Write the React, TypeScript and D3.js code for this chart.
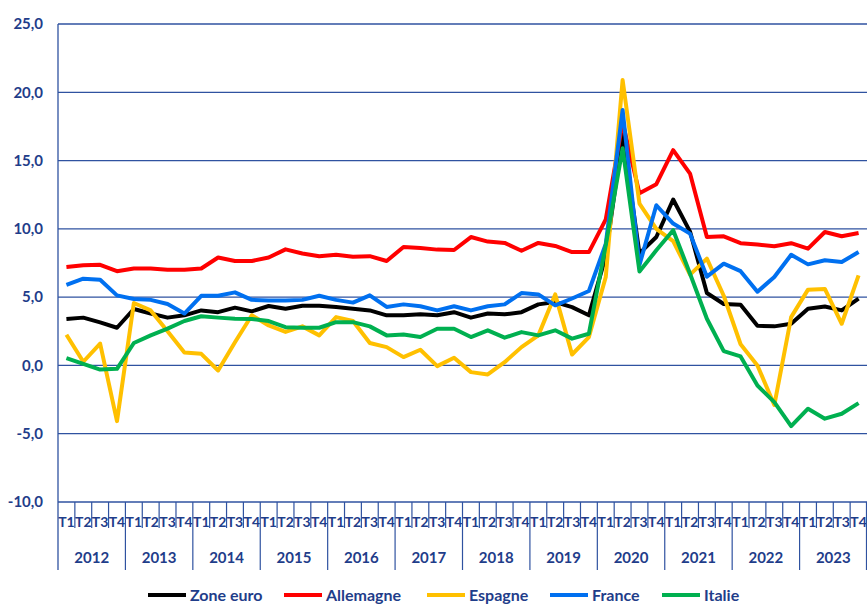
import React from 'react'
import * as d3 from 'd3'

// périodes
const years = ['2012', '2013', '2014', '2015', '2016', '2017', '2018', '2019', '2020', '2021', '2022', '2023']
const quarters = ['T1', 'T2', 'T3', 'T4']
const yTicks = [-10, -5, 0, 5, 10, 15, 20, 25]

// séries
const zoneEuro = [
  3.4, 3.5, 3.15, 2.76, 4.13, 3.8, 3.5, 3.67, 4.03, 3.9, 4.23, 3.96,
  4.35, 4.15, 4.37, 4.37, 4.27, 4.15, 4.03, 3.67, 3.67, 3.74, 3.67, 3.9,
  3.5, 3.8, 3.74, 3.9, 4.47, 4.64, 4.27, 3.67, 8.0, 16.9, 8.2, 9.4,
  12.15, 9.8, 5.3, 4.5, 4.45, 2.9, 2.86, 3.05, 4.15, 4.32, 4.03, 4.89
]
const allemagne = [
  7.2, 7.33, 7.37, 6.9, 7.1, 7.1, 7.0, 7.0, 7.1, 7.9, 7.65, 7.65,
  7.9, 8.5, 8.2, 8.0, 8.1, 7.95, 8.0, 7.65, 8.67, 8.6, 8.48, 8.45,
  9.4, 9.07, 8.97, 8.4, 8.97, 8.75, 8.3, 8.3, 10.7, 17.8, 12.6, 13.27,
  15.76, 14.05, 9.4, 9.45, 8.95, 8.86, 8.72, 8.95, 8.55, 9.77, 9.46, 9.7
]
const espagne = [
  2.25, 0.27, 1.6, -4.08, 4.57, 4.03, 2.5, 0.95, 0.85, -0.37, 1.7, 3.67,
  2.93, 2.45, 2.86, 2.2, 3.54, 3.25, 1.64, 1.34, 0.61, 1.15, -0.05, 0.56,
  -0.49, -0.66, 0.24, 1.34, 2.2, 5.2, 0.8, 2.08, 6.47, 20.9, 11.85, 10.0,
  9.1, 6.65, 7.82, 5.1, 1.55, 0.0, -2.9, 3.54, 5.55, 5.6, 3.05, 6.6
]
const france = [
  5.9, 6.35, 6.28, 5.13, 4.86, 4.8, 4.5, 3.8, 5.1, 5.1, 5.35, 4.8,
  4.75, 4.75, 4.8, 5.1, 4.8, 4.6, 5.13, 4.28, 4.47, 4.33, 4.03, 4.33,
  4.03, 4.33, 4.47, 5.3, 5.2, 4.4, 4.9, 5.45, 8.9, 18.7, 7.35, 11.73,
  10.39, 9.65, 6.5, 7.45, 6.9, 5.4, 6.47, 8.1, 7.4, 7.7, 7.57, 8.3
]
const italie = [
  0.54, 0.12, -0.3, -0.25, 1.64, 2.2, 2.7, 3.25, 3.6, 3.5, 3.42, 3.4,
  3.25, 2.8, 2.76, 2.76, 3.17, 3.17, 2.86, 2.2, 2.27, 2.08, 2.69, 2.69,
  2.08, 2.57, 2.03, 2.44, 2.2, 2.57, 1.96, 2.32, 8.8, 15.9, 6.87, 8.43,
  9.9, 6.72, 3.42, 1.05, 0.66, -1.47, -2.69, -4.45, -3.17, -3.9, -3.54, -2.76
]

const seriesNames = ['Zone euro', 'Allemagne', 'Espagne', 'France', 'Italie']
const seriesValues = [zoneEuro, allemagne, espagne, france, italie]
const seriesColors = ['#000000', '#ff0000', '#ffc000', '#0070f0', '#00b050']

const W = 867
const H = 604
const left = 58
const right = 867
const top = 24
const bottom = 502
const axisColor = '#2f52a0'
const textColor = '#1f3d8a'
const font = 'Lato, "Open Sans", sans-serif'

const periods = years.flatMap((y) => quarters.map((q) => `${y}-${q}`))

const fr = d3.formatLocale({
  decimal: ',',
  thousands: ' ',
  grouping: [3],
  currency: ['', ' €'],
  minus: '-'
})
const fmt = fr.format('.1f')

export default function App() {
  const x = d3.scaleBand<string>().domain(periods).range([left, right]).padding(0)
  const y = d3.scaleLinear().domain([-10, 25]).range([bottom, top])
  const bw = x.bandwidth()

  const line = d3
    .line<number>()
    .x((_, i) => (x(periods[i]) as number) + bw / 2)
    .y((d) => y(d))

  // légende : positions des entrées
  const legendX = [148, 284, 427, 550, 662]
  const legendY = 595

  return (
    <svg
      width={W}
      height={H}
      style={{ position: 'fixed', left: 0, top: 0, background: '#fff' }}
      fontFamily={font}
    >
      {/* grille horizontale */}
      {yTicks.map((t) => (
        <g key={t}>
          <line x1={left} x2={right} y1={y(t)} y2={y(t)} stroke={axisColor} strokeWidth={1.3} />
          <text
            x={43}
            y={y(t)}
            dy="0.35em"
            textAnchor="end"
            fontSize={15}
            fontWeight={700}
            fill={textColor}
          >
            {fmt(t)}
          </text>
        </g>
      ))}

      {/* axe vertical */}
      <line x1={left} x2={left} y1={top} y2={570} stroke={axisColor} strokeWidth={1.3} />

      {/* graduations trimestres */}
      {periods.map((p, i) => {
        const x0 = x(p) as number
        const isYear = i % 4 === 0
        return (
          <g key={p}>
            {i > 0 && (
              <line
                x1={x0}
                x2={x0}
                y1={bottom}
                y2={isYear ? 570 : 528}
                stroke={axisColor}
                strokeWidth={1.2}
              />
            )}
            <text
              x={x0 + bw / 2}
              y={522}
              dy="0.35em"
              textAnchor="middle"
              fontSize={14}
              fontWeight={700}
              fill={textColor}
            >
              {quarters[i % 4]}
            </text>
          </g>
        )
      })}
      <line x1={right - 0.5} x2={right - 0.5} y1={bottom} y2={570} stroke={axisColor} strokeWidth={1.2} />

      {/* années */}
      {years.map((yr) => {
        const x0 = x(`${yr}-T1`) as number
        const x1 = (x(`${yr}-T4`) as number) + bw
        return (
          <text
            key={yr}
            x={(x0 + x1) / 2}
            y={558}
            dy="0.35em"
            textAnchor="middle"
            fontSize={15}
            fontWeight={700}
            fill={textColor}
          >
            {yr}
          </text>
        )
      })}

      {/* courbes */}
      {seriesValues.map((vals, k) => (
        <path
          key={seriesNames[k]}
          d={line(vals) || ''}
          fill="none"
          stroke={seriesColors[k]}
          strokeWidth={4}
          strokeLinejoin="round"
        />
      ))}

      {/* légende */}
      {seriesNames.map((name, k) => (
        <g key={name}>
          <line
            x1={legendX[k]}
            x2={legendX[k] + 38}
            y1={legendY}
            y2={legendY}
            stroke={seriesColors[k]}
            strokeWidth={4}
          />
          <text
            x={legendX[k] + 42}
            y={legendY}
            dy="0.35em"
            fontSize={16}
            fontWeight={700}
            fill={textColor}
          >
            {name}
          </text>
        </g>
      ))}
    </svg>
  )
}
